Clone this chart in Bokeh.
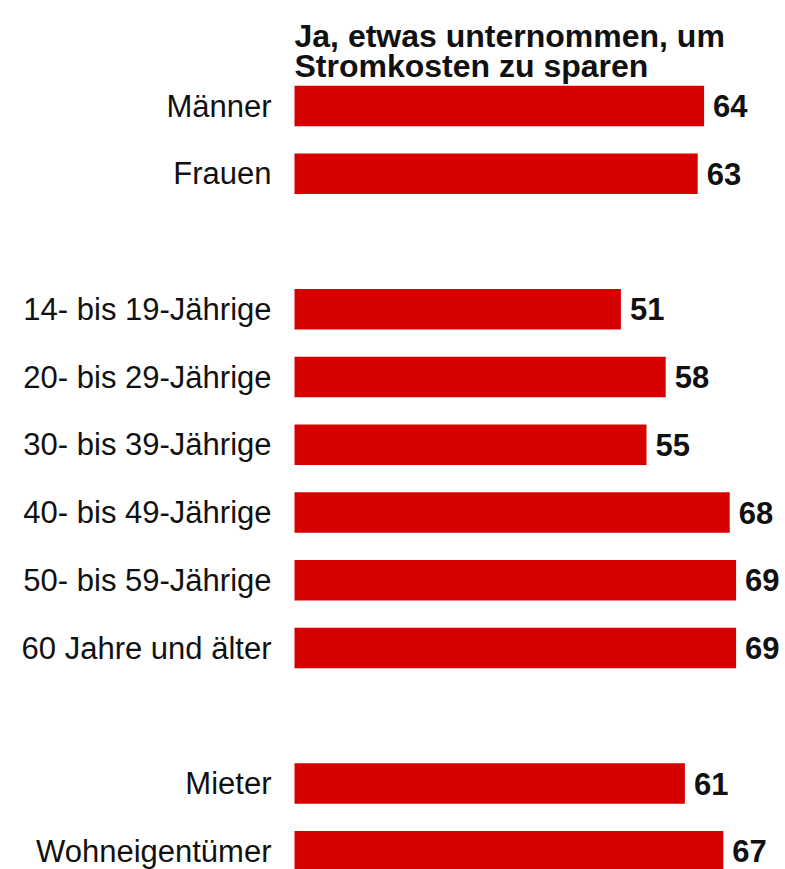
from bokeh.plotting import figure
from bokeh.models import ColumnDataSource, Range1d, Label
from bokeh.core.properties import value
from bokeh.embed import file_html
from bokeh.resources import INLINE

title_lines = ["Ja, etwas unternommen, um", "Stromkosten zu sparen"]
gender = ["Männer", "Frauen"]
gender_vals = [64, 63]
age = ["14- bis 19-Jährige", "20- bis 29-Jährige", "30- bis 39-Jährige",
       "40- bis 49-Jährige", "50- bis 59-Jährige", "60 Jahre und älter"]
age_vals = [51, 58, 55, 68, 69, 69]
housing = ["Mieter", "Wohneigentümer"]
housing_vals = [61, 67]

cats, vals, pos = [], [], []
slot = 0
for names, vs in [(gender, gender_vals), (age, age_vals), (housing, housing_vals)]:
    for n, v in zip(names, vs):
        cats.append(n)
        vals.append(v)
        pos.append(slot)
        slot += 1
    slot += 1  # gap between groups

src = ColumnDataSource(dict(cat=cats, val=vals, pos=pos, lbl=[str(v) for v in vals]))

W, H = 785, 869
scale = 6.40
zero_px = 294
x_range = Range1d(-zero_px / scale, (W - zero_px) / scale)
step = 67.75
top_px = 105.5
y_range = Range1d((H - top_px) / step, -top_px / step)

p = figure(width=W, height=H, x_range=x_range, y_range=y_range,
           toolbar_location=None, output_backend="svg",
           x_axis_location=None, y_axis_location=None,
           min_border=0, outline_line_color=None)
p.grid.visible = False

FONT = value("Liberation Sans")

p.hbar(y="pos", left=0, right="val", height=0.6, source=src,
       fill_color="#d70000", line_color=None)

p.text(x=0, y="pos", text="cat", source=src, x_offset=-23,
       text_align="right", text_baseline="middle",
       text_font=FONT, text_font_size="31px", text_color="#111111")

p.text(x="val", y="pos", text="lbl", source=src, x_offset=9,
       text_align="left", text_baseline="middle",
       text_font=FONT, text_font_size="31px", text_font_style="bold",
       text_color="#111111")

for i, line in enumerate(title_lines):
    p.add_layout(Label(x=294, y=H - 35 - 30 * i, x_units="screen", y_units="screen",
                       text=line, text_font="Liberation Sans", text_font_size="32px",
                       text_font_style="bold", text_color="#111111",
                       text_baseline="alphabetic", text_align="left"))

open("out.html", "w").write(file_html(p, INLINE))
